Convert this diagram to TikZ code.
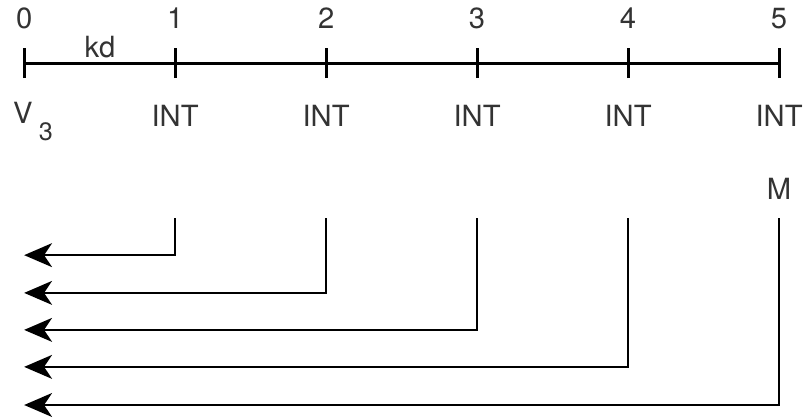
\documentclass[tikz,border=0pt]{standalone}
\usepackage{fontspec}
\setmainfont{TeX Gyre Heros}
\usepackage{tikz}
\usetikzlibrary{arrows.meta,positioning}

\tikzset{
  lbl/.style={text=black!80,font=\fontsize{22}{26}\selectfont,inner sep=0pt},
  axis/.style={line width=2.3pt},
  feed/.style={line width=1.8pt,-{Stealth[length=21pt,width=18pt,inset=6pt]}}
}

\begin{document}
\begin{tikzpicture}
    \useasboundingbox (-0.64,1.67) rectangle (20.74,-9.40);
    % positions along the line
    \coordinate (t0) at (0,0);
    \coordinate (t1) at (4,0);
    \coordinate (t2) at (8,0);
    \coordinate (t3) at (12,0);
    \coordinate (t4) at (16,0);
    \coordinate (t5) at (20,0);
    \draw[axis] (t0)--(t5);
    \draw[axis] (0,-0.4)--(0,0.4);
    \draw[axis] (4,-0.4)--(4,0.4);
    \draw[axis] (8,-0.4)--(8,0.4);
    \draw[axis] (12,-0.4)--(12,0.4);
    \draw[axis] (16,-0.4)--(16,0.4);
    \draw[axis] (20,-0.4)--(20,0.4);
    \node[lbl] (n0) at (0,1.19) {0};
    \node[lbl] (n1) at (4,1.19) {1};
    \node[lbl] (n2) at (8,1.19) {2};
    \node[lbl] (n3) at (12,1.19) {3};
    \node[lbl] (n4) at (16,1.19) {4};
    \node[lbl] (n5) at (20,1.19) {5};
    \node[lbl] (kd) at (2.01,0.42) {kd};
    \node[lbl,anchor=west] (v3) at (-0.3,-1.55) {V\raisebox{-1.1ex}{\fontsize{19}{21}\selectfont\hspace{0.25em}3}};
    \node[lbl] (i1) at (4,-1.40) {INT};
    \node[lbl] (i2) at (8,-1.40) {INT};
    \node[lbl] (i3) at (12,-1.40) {INT};
    \node[lbl] (i4) at (16,-1.40) {INT};
    \node[lbl] (i5) at (20,-1.40) {INT};
    \node[lbl] (m) at (20,-3.34) {M};
    % returns back to the start
    \coordinate (s1) at (4,-4.11);
    \coordinate (s2) at (8,-4.11);
    \coordinate (s3) at (12,-4.11);
    \coordinate (s4) at (16,-4.11);
    \coordinate (s5) at (20,-4.11);
    \coordinate (e1) at (0,-5.09);
    \coordinate (e2) at (0,-6.09);
    \coordinate (e3) at (0,-7.07);
    \coordinate (e4) at (0,-8.05);
    \coordinate (e5) at (0,-9.06);
    \draw[feed] (s1) |- (e1);
    \draw[feed] (s2) |- (e2);
    \draw[feed] (s3) |- (e3);
    \draw[feed] (s4) |- (e4);
    \draw[feed] (s5) |- (e5);
\end{tikzpicture}
\end{document}
